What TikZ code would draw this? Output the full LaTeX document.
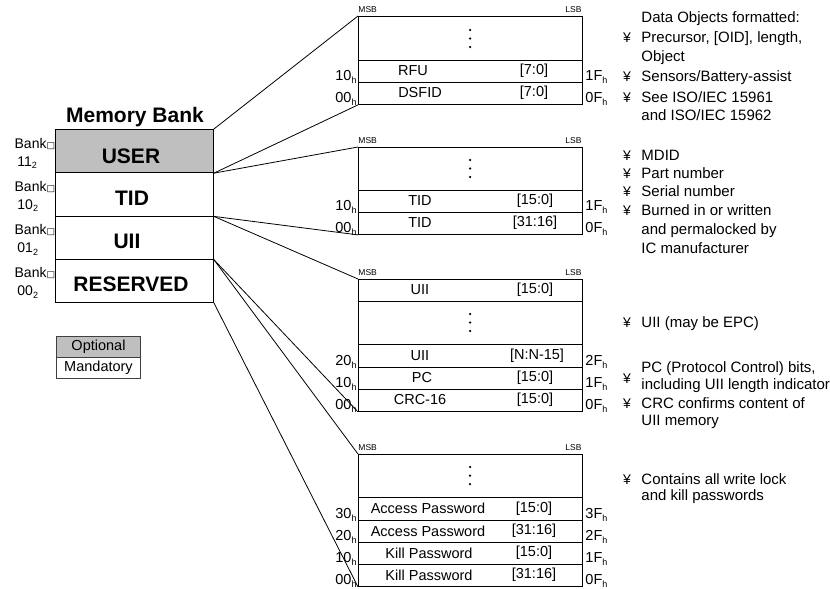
\documentclass[tikz,border=0pt]{standalone}
\usepackage{fontspec}
\setmainfont{Liberation Sans}
\newfontfamily\dejavu{DejaVu Sans}
\newcommand{\hx}[2]{#1\raisebox{-0.35ex}{\fontsize{9}{9}\selectfont #2}}
\newcommand{\sqbox}{{\dejavu\fontsize{9}{9}\selectfont □}}
\begin{document}
\begin{tikzpicture}[x=1pt,y=-1pt,line width=0.9pt,
  bankrow/.style={draw,anchor=north west,minimum width=158pt,minimum height=43.25pt,inner sep=0pt},
  bankname/.style={anchor=base,inner sep=0pt,font=\fontsize{21}{21}\selectfont\bfseries},
  banklbl/.style={inner sep=0pt,font=\fontsize{14}{16}\selectfont},
  mbox/.style={draw,anchor=north west,minimum width=224pt,inner sep=0pt},
  mrow/.style={draw,anchor=north west,minimum width=224pt,inner sep=0pt},
  celltxt/.style={inner sep=0pt,font=\fontsize{14.5}{16}\selectfont},
  hexl/.style={inner sep=0pt,anchor=base east,font=\fontsize{14.5}{16}\selectfont},
  hexr/.style={inner sep=0pt,anchor=base west,font=\fontsize{14.5}{16}\selectfont},
  msb/.style={inner sep=0pt,anchor=base west,font=\fontsize{8.5}{8.5}\selectfont},
  lsb/.style={inner sep=0pt,anchor=base east,font=\fontsize{8.5}{8.5}\selectfont},
  dsc/.style={inner sep=0pt,anchor=base west,font=\fontsize{15}{16}\selectfont},
  bul/.style={inner sep=0pt,anchor=base,font=\fontsize{14}{16}\selectfont},
  vdot/.style={circle,fill,inner sep=0pt,minimum size=2.5pt},
  conn/.style={line width=0.8pt},
  legend/.style={draw=black!75,line width=1pt,anchor=north west,minimum width=84pt,minimum height=21pt,inner sep=0pt,font=\fontsize{14.5}{16}\selectfont}]
\useasboundingbox (0,0) rectangle (830,589);

% ---------- Memory bank column ----------
\node[anchor=base,inner sep=0pt,font=\fontsize{21}{21}\selectfont\bfseries] (title) at (135,122) {Memory Bank};
\node[bankrow,fill=black!25] (user) at (55,129) {};
\node[bankrow] (tid) at (55,172.25) {};
\node[bankrow] (uii) at (55,215.5) {};
\node[bankrow] (res) at (55,258.75) {};
\node[bankname] (userT) at (131,163) {USER};
\node[bankname] (tidT) at (132,205.5) {TID};
\node[bankname] (uiiT) at (127,248.5) {UII};
\node[bankname] (resT) at (131,291) {RESERVED};

\node[banklbl,anchor=base east] (bk1) at (55.5,148) {Bank\sqbox};
\node[banklbl,anchor=base west] (bn1) at (17,166) {\hx{11}{2}};
\node[banklbl,anchor=base east] (bk2) at (55.5,191.25) {Bank\sqbox};
\node[banklbl,anchor=base west] (bn2) at (17,209.25) {\hx{10}{2}};
\node[banklbl,anchor=base east] (bk3) at (55.5,234.5) {Bank\sqbox};
\node[banklbl,anchor=base west] (bn3) at (17,252.5) {\hx{01}{2}};
\node[banklbl,anchor=base east] (bk4) at (55.5,277.75) {Bank\sqbox};
\node[banklbl,anchor=base west] (bn4) at (17,295.75) {\hx{00}{2}};

% legend
\node[legend,fill=black!25] (opt) at (56,336) {Optional};
\node[legend] (mand) at (56,357) {Mandatory};

% ---------- Box 1 (USER) ----------
\node[mbox,minimum height=88pt] (b1) at (358,16) {};
\node[mrow,minimum height=22pt] (b1r1) at (358,60) {};
\node[mrow,minimum height=22pt] (b1r2) at (358,82) {};
\node[msb] (b1m) at (358,12.7) {MSB};
\node[lsb] (b1l) at (582,12.7) {LSB};
\node[vdot] (b1d1) at (470,30) {};
\node[vdot] (b1d2) at (470,38.5) {};
\node[vdot] (b1d3) at (470,47) {};
\node[celltxt] (b1a) at (413,71) {RFU};
\node[celltxt] (b1b) at (534,71) {[7:0]};
\node[celltxt] (b1c) at (420,93) {DSFID};
\node[celltxt] (b1e) at (534,93) {[7:0]};
\node[hexl] (b1h1) at (357,80.5) {\hx{10}{h}};
\node[hexl] (b1h2) at (357,102.5) {\hx{00}{h}};
\node[hexr] (b1k1) at (585,80.5) {\hx{1F}{h}};
\node[hexr] (b1k2) at (585,102.5) {\hx{0F}{h}};

% ---------- Box 2 (TID) ----------
\node[mbox,minimum height=87pt] (b2) at (358,147) {};
\node[mrow,minimum height=22pt] (b2r1) at (358,190) {};
\node[mrow,minimum height=22pt] (b2r2) at (358,212) {};
\node[msb] (b2m) at (358,143.7) {MSB};
\node[lsb] (b2l) at (582,143.7) {LSB};
\node[vdot] (b2d1) at (470,160) {};
\node[vdot] (b2d2) at (470,168.5) {};
\node[vdot] (b2d3) at (470,177) {};
\node[celltxt] (b2a) at (420,201) {TID};
\node[celltxt] (b2b) at (535,201) {[15:0]};
\node[celltxt] (b2c) at (420,223) {TID};
\node[celltxt] (b2e) at (535,223) {[31:16]};
\node[hexl] (b2h1) at (357,210.5) {\hx{10}{h}};
\node[hexl] (b2h2) at (357,232.5) {\hx{00}{h}};
\node[hexr] (b2k1) at (585,210.5) {\hx{1F}{h}};
\node[hexr] (b2k2) at (585,232.5) {\hx{0F}{h}};

% ---------- Box 3 (UII) ----------
\node[mbox,minimum height=132pt] (b3) at (358,279) {};
\node[mrow,minimum height=22pt] (b3r0) at (358,279) {};
\node[mrow,minimum height=23pt] (b3r1) at (358,344) {};
\node[mrow,minimum height=22pt] (b3r2) at (358,367) {};
\node[mrow,minimum height=22pt] (b3r3) at (358,389) {};
\node[msb] (b3m) at (358,275.7) {MSB};
\node[lsb] (b3l) at (582,275.7) {LSB};
\node[vdot] (b3d1) at (470,314) {};
\node[vdot] (b3d2) at (470,322.5) {};
\node[vdot] (b3d3) at (470,331) {};
\node[celltxt] (b3a0) at (420,290) {UII};
\node[celltxt] (b3b0) at (535,290) {[15:0]};
\node[celltxt] (b3a) at (420,355.5) {UII};
\node[celltxt] (b3b) at (537,355.5) {[N:N-15]};
\node[celltxt] (b3c) at (422,378) {PC};
\node[celltxt] (b3e) at (535,378) {[15:0]};
\node[celltxt] (b3f) at (420,400) {CRC-16};
\node[celltxt] (b3g) at (535,400) {[15:0]};
\node[hexl] (b3h1) at (357,365.5) {\hx{20}{h}};
\node[hexl] (b3h2) at (357,387.5) {\hx{10}{h}};
\node[hexl] (b3h3) at (357,409.5) {\hx{00}{h}};
\node[hexr] (b3k1) at (585,365.5) {\hx{2F}{h}};
\node[hexr] (b3k2) at (585,387.5) {\hx{1F}{h}};
\node[hexr] (b3k3) at (585,409.5) {\hx{0F}{h}};

% ---------- Box 4 (RESERVED) ----------
\node[mbox,minimum height=132pt] (b4) at (358,454) {};
\node[mrow,minimum height=23pt] (b4r1) at (358,497) {};
\node[mrow,minimum height=22pt] (b4r2) at (358,520) {};
\node[mrow,minimum height=22pt] (b4r3) at (358,542) {};
\node[mrow,minimum height=22pt] (b4r4) at (358,564) {};
\node[msb] (b4m) at (358,450.7) {MSB};
\node[lsb] (b4l) at (582,450.7) {LSB};
\node[vdot] (b4d1) at (470,467) {};
\node[vdot] (b4d2) at (470,475.5) {};
\node[vdot] (b4d3) at (470,484) {};
\node[celltxt] (b4a) at (428,508.5) {Access Password};
\node[celltxt] (b4b) at (534,508.5) {[15:0]};
\node[celltxt] (b4c) at (428,531) {Access Password};
\node[celltxt] (b4e) at (534,531) {[31:16]};
\node[celltxt] (b4f) at (429,553) {Kill Password};
\node[celltxt] (b4g) at (534,553) {[15:0]};
\node[celltxt] (b4i) at (429,575) {Kill Password};
\node[celltxt] (b4j) at (534,575) {[31:16]};
\node[hexl] (b4h1) at (357,518.5) {\hx{30}{h}};
\node[hexl] (b4h2) at (357,540.5) {\hx{20}{h}};
\node[hexl] (b4h3) at (357,562.5) {\hx{10}{h}};
\node[hexl] (b4h4) at (357,584.5) {\hx{00}{h}};
\node[hexr] (b4k1) at (585,518.5) {\hx{3F}{h}};
\node[hexr] (b4k2) at (585,540.5) {\hx{2F}{h}};
\node[hexr] (b4k3) at (585,562.5) {\hx{1F}{h}};
\node[hexr] (b4k4) at (585,584.5) {\hx{0F}{h}};

% ---------- connectors ----------
\draw[conn] (user.north east) -- (b1.north west);
\draw[conn] (user.south east) -- (b1.south west);
\draw[conn] (user.south east) -- (b2.north west);
\draw[conn] (tid.south east) -- (b2.south west);
\draw[conn] (tid.south east) -- (b3.north west);
\draw[conn] (uii.south east) -- (b3.south west);
\draw[conn] (uii.south east) -- (b4.north west);
\draw[conn] (res.south east) -- (b4.south west);

% ---------- descriptions ----------
\node[dsc] (d1a) at (641,22) {Data Objects formatted:};
\node[bul] (u1a) at (627,42) {¥};
\node[dsc] (d1b) at (641,42) {Precursor, [OID], length,};
\node[dsc] (d1c) at (641,61) {Object};
\node[bul] (u1b) at (627,81) {¥};
\node[dsc] (d1d) at (641,81) {Sensors/Battery-assist};
\node[bul] (u1c) at (627,102) {¥};
\node[dsc] (d1e) at (641,102) {See ISO/IEC 15961};
\node[dsc] (d1f) at (641,120) {and ISO/IEC 15962};

\node[bul] (u2a) at (627,160) {¥};
\node[dsc] (d2a) at (641,160) {MDID};
\node[bul] (u2b) at (627,178) {¥};
\node[dsc] (d2b) at (641,178) {Part number};
\node[bul] (u2c) at (627,196.5) {¥};
\node[dsc] (d2c) at (641,196.5) {Serial number};
\node[bul] (u2d) at (627,215) {¥};
\node[dsc] (d2d) at (641,215) {Burned in or written};
\node[dsc] (d2e) at (641,234) {and permalocked by};
\node[dsc] (d2f) at (641,253) {IC manufacturer};

\node[bul] (u3a) at (627,327) {¥};
\node[dsc] (d3a) at (641,327) {UII (may be EPC)};
\node[dsc] (d3b) at (641,372) {PC (Protocol Control) bits,};
\node[bul] (u3b) at (627,383) {¥};
\node[dsc] (d3c) at (641,389) {including UII length indicator};
\node[bul] (u3c) at (627,408) {¥};
\node[dsc] (d3d) at (641,408) {CRC confirms content of};
\node[dsc] (d3e) at (641,425) {UII memory};

\node[bul] (u4a) at (627,484) {¥};
\node[dsc] (d4a) at (641,484) {Contains all write lock};
\node[dsc] (d4b) at (641,500) {and kill passwords};
\end{tikzpicture}
\end{document}
